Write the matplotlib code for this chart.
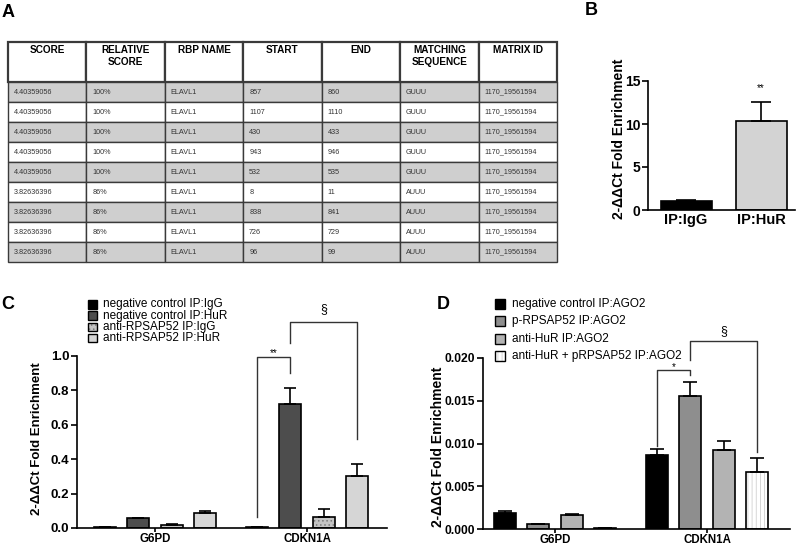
import numpy as np
import matplotlib.pyplot as plt
from matplotlib.patches import Rectangle

plt.rcParams['font.family'] = ['Liberation Sans', 'DejaVu Sans']
plt.rcParams['hatch.linewidth'] = 0.6

W, H = 800, 545

# ---- panel A: table data
col_labels = ['SCORE', 'RELATIVE\nSCORE', 'RBP NAME', 'START', 'END',
              'MATCHING\nSEQUENCE', 'MATRIX ID']
scores = ['4.40359056'] * 5 + ['3.82636396'] * 4
rel_scores = ['100%'] * 5 + ['86%'] * 4
rbp_names = ['ELAVL1'] * 9
starts = ['857', '1107', '430', '943', '532', '8', '838', '726', '96']
ends = ['860', '1110', '433', '946', '535', '11', '841', '729', '99']
seqs = ['GUUU'] * 5 + ['AUUU'] * 4
matrix_ids = ['1170_19561594'] * 9

# ---- panel B
b_groups = ['IP:IgG', 'IP:HuR']
b_means = [1.05, 10.3]
b_errs = [0.15, 2.3]
b_colors = ['#000000', '#d3d3d3']

# ---- panel C
genes = ['G6PD', 'CDKN1A']
c_labels = ['negative control IP:IgG', 'negative control IP:HuR',
            'anti-RPSAP52 IP:IgG', 'anti-RPSAP52 IP:HuR']
c_means = [[0.004, 0.004], [0.058, 0.72], [0.018, 0.066], [0.087, 0.305]]
c_errs = [[0.001, 0.001], [0.003, 0.095], [0.003, 0.044], [0.009, 0.07]]
c_face = ['#000000', '#4d4d4d', '#c4c4c4', '#d6d6d6']
c_hatch = [None, None, '....', None]
c_hcol = [None, None, '#7a7a7a', None]

# ---- panel D
d_labels = ['negative control IP:AGO2', 'p-RPSAP52 IP:AGO2',
            'anti-HuR IP:AGO2', 'anti-HuR + pRPSAP52 IP:AGO2']
d_means = [[0.0019, 0.0087], [0.0006, 0.0156], [0.0016, 0.0092], [0.0001, 0.0067]]
d_errs = [[0.0002, 0.0006], [0.00003, 0.0016], [0.0002, 0.0011], [0.00003, 0.0016]]
d_face = ['#000000', '#8e8e8e', '#b3b3b3', '#ffffff']
d_hatch = [None, None, None, '||||']
d_hcol = [None, None, None, '#d0d0d0']

fig = plt.figure(figsize=(W / 100, H / 100), dpi=100)


def px_axes(left, top, right, bottom):
    return fig.add_axes([left / W, 1 - bottom / H, (right - left) / W, (bottom - top) / H])


def style_axes(ax, tick_size, xlabel_size):
    for s in ['top', 'right']:
        ax.spines[s].set_visible(False)
    for s in ['left', 'bottom']:
        ax.spines[s].set_linewidth(1.2)
    ax.tick_params(direction='out', length=4, width=1.2, labelsize=tick_size, pad=1.5)
    ax.tick_params(axis='x', length=3, labelsize=xlabel_size, pad=0.5)
    for lab in ax.get_xticklabels() + ax.get_yticklabels():
        lab.set_fontweight('bold')


def draw_bar(ax, x, h, w, face, hatch, hcol, err, capsize):
    if hatch:
        ax.bar(x, h, w, color=face, hatch=hatch, edgecolor=hcol, linewidth=0)
        face = 'none'
    ax.bar(x, h, w, color=face, edgecolor='black', linewidth=1.2,
           yerr=[np.zeros(len(err)), err],
           error_kw=dict(ecolor='black', elinewidth=1.2, capsize=capsize, capthick=1.2))


def bracket(ax, x1, x2, y1, y2, top):
    ax.plot([x1, x1, x2, x2], [y1, top, top, y2], color='#333333', lw=1.0,
            clip_on=False)


def manual_legend(x0, yc0, pitch, size, labels, faces, hatches, hcols):
    for i, lab in enumerate(labels):
        yc = yc0 + i * pitch
        rect = (x0 / W, 1 - (yc + size / 2) / H)
        if hatches[i]:
            fig.add_artist(Rectangle(rect, size / W, size / H, transform=fig.transFigure,
                                     facecolor=faces[i], hatch=hatches[i],
                                     edgecolor=hcols[i], linewidth=0))
            fc = 'none'
        else:
            fc = faces[i]
        fig.add_artist(Rectangle(rect, size / W, size / H, transform=fig.transFigure,
                                 facecolor=fc, edgecolor='black', linewidth=1.0))
        fig.text((x0 + size + 7) / W, 1 - yc / H, lab, fontsize=8.5,
                 va='center', ha='left')


# ================= A: table =================
axA = px_axes(8, 42, 557, 262)
axA.axis('off')
rows = [list(r) for r in zip(scores, rel_scores, rbp_names, starts, ends, seqs, matrix_ids)]
headers = [lab + '\n' * (3 - len(lab.split('\n'))) for lab in col_labels]
row_colors = [['#cfcfcf' if i % 2 == 0 else 'white'] * 7 for i in range(len(rows))]
tab = axA.table(cellText=rows, colLabels=headers, cellColours=row_colors,
                cellLoc='left', colLoc='center', bbox=[0, 0, 1, 1])
tab.auto_set_font_size(False)
for (r, c), cell in tab.get_celld().items():
    cell.set_edgecolor('#3a3a3a')
    cell.set_linewidth(1.0)
    cell.PAD = 0.075
    if r == 0:
        cell.set_height(cell.get_height() * 2)
        cell.set_linewidth(1.6)
        cell.get_text().set_fontsize(7.2)
        cell.get_text().set_fontweight('bold')
    else:
        cell.get_text().set_fontsize(5.2)
        cell.get_text().set_color('#333333')

# ================= B =================
axB = px_axes(648, 81, 795, 210)
xb = np.arange(len(b_groups))
axB.bar(xb, b_means, 0.68, color=b_colors, edgecolor='black', linewidth=1.2,
        yerr=[np.zeros(2), b_errs],
        error_kw=dict(ecolor='black', elinewidth=1.2, capsize=7.5, capthick=1.2))
axB.set_xlim(-0.507, 1.45)
axB.set_ylim(0, 15)
axB.set_yticks([0, 5, 10, 15])
axB.set_xticks(xb)
axB.set_xticklabels(b_groups)
style_axes(axB, 10, 10.5)
axB.tick_params(axis='x', length=0, pad=2)
axB.set_ylabel('2-ΔΔCt Fold Enrichment', fontsize=10, fontweight='bold')
axB.yaxis.set_label_coords(-0.15, 0.55)
axB.text(1, 14.2, '**', ha='center', va='center', fontsize=7)

# ================= C =================
axC = px_axes(77, 356, 387, 528)
xg = np.arange(len(genes))
offs = (np.arange(4) - 1.5) * 0.219
for i in range(4):
    draw_bar(axC, xg + offs[i], c_means[i], 0.145, c_face[i], c_hatch[i],
             c_hcol[i], c_errs[i], 4.5)
axC.set_xlim(-0.513, 1.526)
axC.set_ylim(0, 1.0)
axC.set_yticks(np.arange(0, 1.01, 0.2))
axC.set_yticklabels(['%.1f' % v for v in np.arange(0, 1.01, 0.2)])
axC.set_xticks(xg)
axC.set_xticklabels(genes)
style_axes(axC, 9.5, 8.3)
axC.set_ylabel('2-ΔΔCt Fold Enrichment', fontsize=9.5, fontweight='bold')
axC.yaxis.set_label_coords(-0.11, 0.52)
bracket(axC, 1 + offs[0], 1 + offs[1], 0.064, 0.903, 0.996)
axC.text(1 + (offs[0] + offs[1]) / 2, 1.015, '**', ha='center', va='center', fontsize=7)
bracket(axC, 1 + offs[1], 1 + offs[3], 1.074, 0.52, 1.2)
axC.text(1 + (offs[1] + offs[3]) / 2, 1.27, '§', ha='center', va='center', fontsize=9)
manual_legend(88, 304.5, 11.2, 8.5, c_labels, c_face, c_hatch, c_hcol)

# ================= D =================
axD = px_axes(483, 358, 790, 529)
for i in range(4):
    draw_bar(axD, xg + offs[i], d_means[i], 0.145, d_face[i], d_hatch[i],
             d_hcol[i], d_errs[i], 5)
axD.set_xlim(-0.474, 1.546)
axD.set_ylim(0, 0.02)
axD.set_yticks(np.arange(0, 0.0201, 0.005))
axD.set_yticklabels(['%.3f' % v for v in np.arange(0, 0.0201, 0.005)])
axD.set_xticks(xg)
axD.set_xticklabels(genes)
style_axes(axD, 8.7, 8.3)
axD.set_ylabel('2-ΔΔCt Fold Enrichment', fontsize=10, fontweight='bold')
axD.yaxis.set_label_coords(-0.125, 0.48)
bracket(axD, 1 + offs[0], 1 + offs[1], 0.00966, 0.01805, 0.01855)
axD.text(1 + (offs[0] + offs[1]) / 2, 0.0189, '*', ha='center', va='center', fontsize=7)
bracket(axD, 1 + offs[1], 1 + offs[3], 0.01972, 0.00896, 0.02194)
axD.text(1 + (offs[1] + offs[3]) / 2, 0.0232, '§', ha='center', va='center', fontsize=9)
manual_legend(495, 304, 17.3, 10, d_labels, d_face, d_hatch, d_hcol)

# panel letters
for letter, px, py in [('A', 2, 4), ('B', 585, 2), ('C', 1, 296), ('D', 437, 296)]:
    fig.text(px / W, 1 - py / H, letter, fontsize=13, fontweight='bold',
             ha='left', va='top')

fig.savefig('out.png', dpi=100)
